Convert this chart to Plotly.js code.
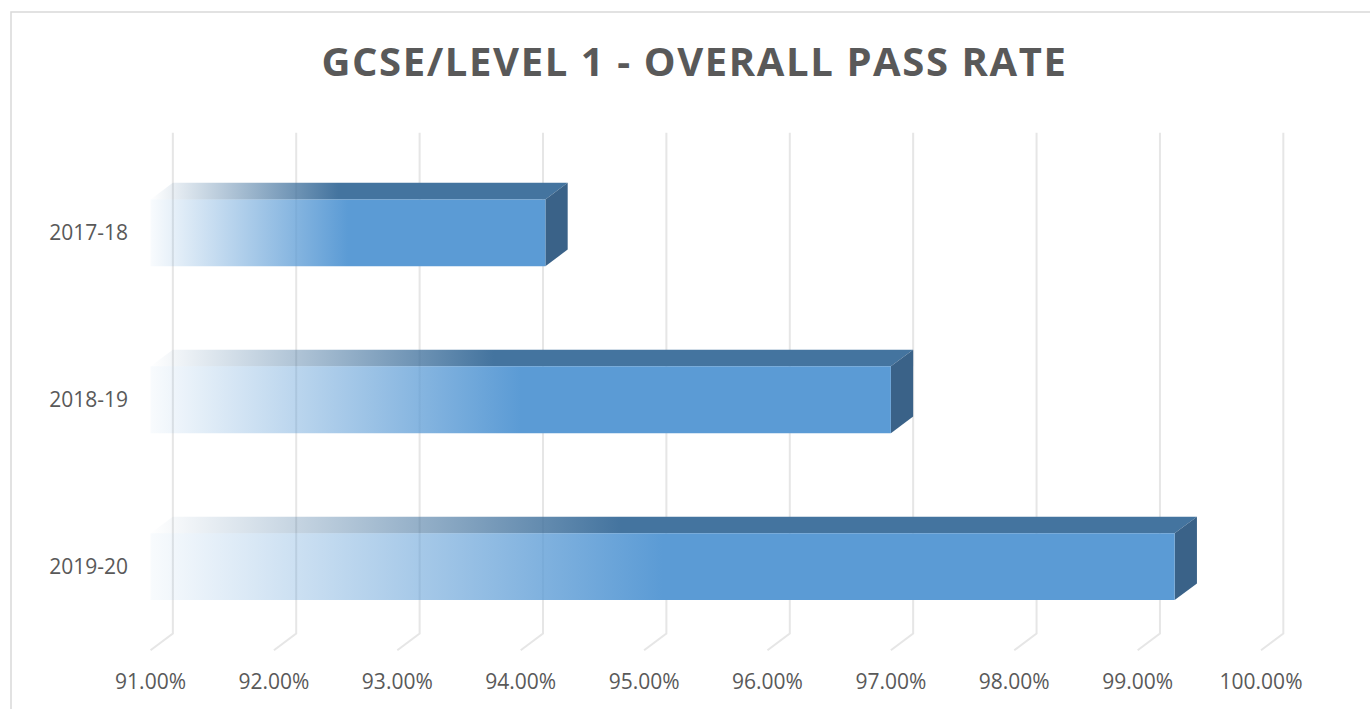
<!DOCTYPE html>
<html>
<head>
<meta charset="utf-8">
<script src="https://cdn.plot.ly/plotly-3.0.1.min.js"></script>
<style>
  html, body { margin: 0; padding: 0; background: #ffffff; }
  #chart { width: 1370px; height: 709px; }
  .gtitle { letter-spacing: 1.6px; }
</style>
</head>
<body>
<div id="chart"></div>
<script>
// ---- data ----
const categories = ['2017-18', '2018-19', '2019-20'];
const passRate = [94.2, 97.0, 99.3];
const tickValues = [91, 92, 93, 94, 95, 96, 97, 98, 99, 100];
const tickLabels = ['91.00%', '92.00%', '93.00%', '94.00%', '95.00%', '96.00%', '97.00%', '98.00%', '99.00%', '100.00%'];
const axisMin = 91;
const chartTitle = 'GCSE/LEVEL 1 - OVERALL PASS RATE';

// ---- styling / 3D geometry (in axis units) ----
const DX = 0.1807;   // depth offset along x
const DY = 0.0994;   // depth offset along category axis
const H = 0.40;      // bar thickness
const frontColor = '91,155,213';
const topColor = '68,116,159';
const sideColor = '#3A6288';
const gridColor = '#E6E6E6';
const textColor = '#595959';

const traces = [];
categories.forEach((cat, i) => {
  const v = passRate[i];
  const yf = i + DY;              // front face centre
  const yb = i;                   // back face centre
  const x0f = axisMin - DX, x1f = v - DX;
  // top face
  traces.push({
    type: 'scatter', mode: 'lines', fill: 'toself', hoverinfo: 'skip', showlegend: false,
    x: [x0f, x1f, v, axisMin, x0f],
    y: [yf - H / 2, yf - H / 2, yb - H / 2, yb - H / 2, yf - H / 2],
    line: { width: 0, color: 'rgba(0,0,0,0)' },
    fillgradient: {
      type: 'horizontal', start: x0f, stop: v,
      colorscale: [[0, 'rgba(' + topColor + ',0)'], [0.45, 'rgba(' + topColor + ',1)'], [1, 'rgba(' + topColor + ',1)']]
    }
  });
  // side face
  traces.push({
    type: 'scatter', mode: 'lines', fill: 'toself', hoverinfo: 'skip', showlegend: false,
    x: [x1f, v, v, x1f, x1f],
    y: [yf - H / 2, yb - H / 2, yb + H / 2, yf + H / 2, yf - H / 2],
    line: { width: 0, color: 'rgba(0,0,0,0)' },
    fillcolor: sideColor
  });
  // front face
  traces.push({
    type: 'scatter', mode: 'lines', fill: 'toself', showlegend: false,
    name: cat, text: (v.toFixed(2) + '%'), hoverinfo: 'text',
    x: [x0f, x1f, x1f, x0f, x0f],
    y: [yf - H / 2, yf - H / 2, yf + H / 2, yf + H / 2, yf - H / 2],
    line: { width: 0, color: 'rgba(0,0,0,0)' },
    fillgradient: {
      type: 'horizontal', start: x0f, stop: x1f,
      colorscale: [[0, 'rgba(' + frontColor + ',0.04)'], [0.5, 'rgba(' + frontColor + ',1)'], [1, 'rgba(' + frontColor + ',1)']]
    }
  });
});

// gridlines on back wall + floor
const yTop = -0.5, yBot = categories.length - 0.5;
const shapes = tickValues.map(t => ({
  type: 'path', layer: 'below', xref: 'x', yref: 'y',
  path: 'M' + t + ',' + yTop + ' L' + t + ',' + yBot + ' L' + (t - DX) + ',' + (yBot + DY),
  line: { color: gridColor, width: 2 }
}));

const M = { l: 142, r: 62, t: 116, b: 42 };
const W = 1370, HT = 709;
const pw = W - M.l - M.r, ph = HT - M.t - M.b;
const px = p => (p - M.l) / pw;
const py = p => 1 - (p - M.t) / ph;
// chart outer border (left & top visible)
shapes.push({
  type: 'rect', xref: 'paper', yref: 'paper',
  x0: px(11), x1: px(1380), y0: py(720), y1: py(12),
  line: { color: '#D9D9D9', width: 1.5 }, fillcolor: 'rgba(0,0,0,0)'
});

const layout = {
  width: W, height: HT,
  margin: M,
  paper_bgcolor: '#ffffff', plot_bgcolor: 'rgba(0,0,0,0)',
  title: {
    text: chartTitle,
    x: 694.5 / W, xref: 'container', xanchor: 'center',
    y: 1 - 62 / HT, yref: 'container', yanchor: 'middle',
    font: { family: 'Open Sans', size: 40, weight: 'bold', color: textColor }
  },
  xaxis: {
    range: [90.75, 100.2], showgrid: false, zeroline: false, showline: false, ticks: '',
    tickvals: tickValues.map(t => t - DX), ticktext: tickLabels,
    tickfont: { family: 'Open Sans', size: 21, color: textColor }, fixedrange: true
  },
  yaxis: {
    range: [2.7, -0.6], showgrid: false, zeroline: false, showline: false, ticks: '',
    tickvals: categories.map((c, i) => i + DY), ticktext: categories,
    ticklabelstandoff: 13,
    tickfont: { family: 'Open Sans', size: 21, color: textColor }, fixedrange: true
  },
  shapes: shapes,
  showlegend: false
};

Plotly.newPlot('chart', traces, layout, { displayModeBar: false, staticPlot: true });
</script>
</body>
</html>
